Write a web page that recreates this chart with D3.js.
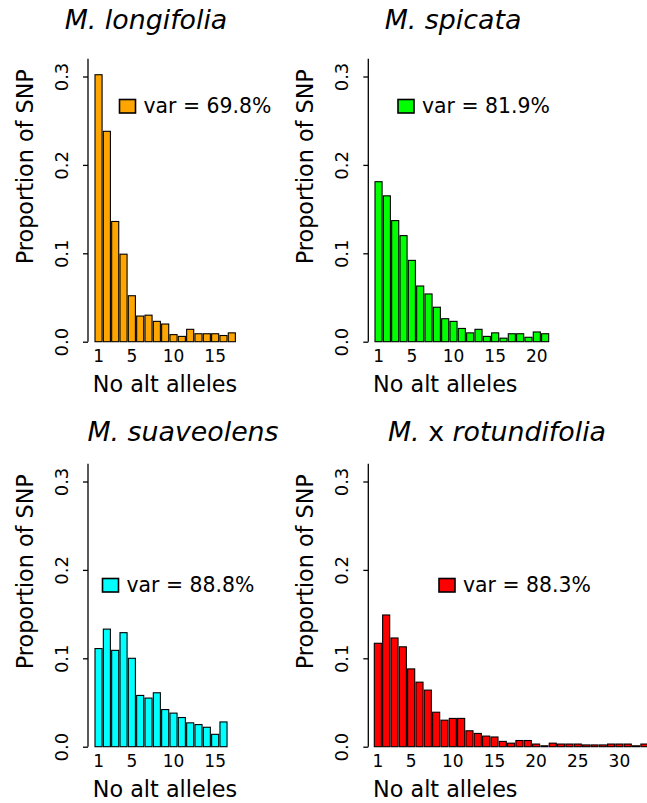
<!DOCTYPE html>
<html>
<head>
<meta charset="utf-8">
<script src="https://cdn.jsdelivr.net/npm/d3@7"></script>
<style>
  html, body { margin: 0; padding: 0; background: #fff; overflow: hidden; }
  svg { display: block; }
  text { font-family: "DejaVu Sans", sans-serif; fill: #000; }
</style>
</head>
<body>
<svg id="chart" width="647" height="803"></svg>
<script>
// ---- data ----
const speciesNames = ["M. longifolia", "M. spicata", "M. suaveolens", "M. x rotundifolia"];
const varLabels = ["var = 69.8%", "var = 81.9%", "var = 88.8%", "var = 88.3%"];
const barColors = ["#FFA500", "#00FF00", "#00FFFF", "#FF0000"];
const yTicks = [0, 0.1, 0.2, 0.3];
const yTickLabels = ["0.0", "0.1", "0.2", "0.3"];
const xTicksTop = [1, 5, 10, 15, 20];
const xTicksRot = [1, 5, 10, 15, 20, 25, 30];

const valuesLongifolia = [0.302, 0.238, 0.136, 0.099, 0.052, 0.029, 0.030, 0.023, 0.020, 0.008, 0.006,
  0.014, 0.009, 0.009, 0.009, 0.007, 0.010];
const valuesSpicata = [0.181, 0.165, 0.137, 0.120, 0.092, 0.063, 0.054, 0.039, 0.026, 0.023, 0.015,
  0.010, 0.014, 0.006, 0.010, 0.004, 0.009, 0.009, 0.005, 0.011, 0.009];
const valuesSuaveolens = [0.111, 0.133, 0.109, 0.129, 0.100, 0.058, 0.055, 0.061, 0.042, 0.038, 0.033,
  0.027, 0.025, 0.022, 0.014, 0.028];
const valuesRotundifolia = [0.117, 0.149, 0.123, 0.113, 0.088, 0.073, 0.064, 0.039, 0.030, 0.032, 0.032,
  0.018, 0.015, 0.012, 0.011, 0.006, 0.004, 0.007, 0.007, 0.003, 0.001, 0.004, 0.003, 0.003, 0.003,
  0.002, 0.002, 0.002, 0.003, 0.003, 0.003, 0.001, 0.003, 0.002, 0.002, 0.001];

const allValues = [valuesLongifolia, valuesSpicata, valuesSuaveolens, valuesRotundifolia];
const allXTicks = [xTicksTop, xTicksTop, xTicksTop, xTicksRot];

// ---- layout ----
const panelLayout = [
  { axisX: 88,    barStart: 95,    y0: 341.7, titleX: 146, titleY: 29,  legX: 119.5, legY: 99.5 },
  { axisX: 368.3, barStart: 375,   y0: 341.7, titleX: 453, titleY: 29,  legX: 398,   legY: 99.5 },
  { axisX: 88,    barStart: 95,    y0: 746.7, titleX: 183, titleY: 441, legX: 102.5, legY: 578.5 },
  { axisX: 368.3, barStart: 374.3, y0: 746.7, titleX: 497, titleY: 441, legX: 439,   legY: 578.5 }
];
const pitch = 8.33;
const pxPerUnit = 884;

const svg = d3.select("#chart");

panelLayout.forEach((L, i) => {
  const vals = allValues[i];
  const n = vals.length;
  const g = svg.append("g");

  const y = d3.scaleLinear().domain([0, 0.32]).range([L.y0, L.y0 - 0.32 * pxPerUnit]);
  const x = d3.scaleBand()
    .domain(d3.range(1, n + 1))
    .range([L.barStart, L.barStart + (n - 0.15) * pitch])
    .paddingInner(0.15).paddingOuter(0);

  // bars
  g.selectAll("rect.bar").data(vals).enter().append("rect")
    .attr("class", "bar")
    .attr("x", (d, j) => x(j + 1))
    .attr("y", d => y(d))
    .attr("width", x.bandwidth())
    .attr("height", d => y(0) - y(d))
    .attr("fill", barColors[i])
    .attr("stroke", "#000")
    .attr("stroke-width", 1.1);

  // y axis
  const yAxis = d3.axisLeft(y).tickValues(yTicks).tickSize(5).tickPadding(4)
    .tickFormat((d, k) => yTickLabels[k]);
  const ya = g.append("g").attr("transform", `translate(${L.axisX},0)`).call(yAxis);
  ya.select(".domain").attr("d", `M0,${y(0)}V${y(0.32)}`).attr("stroke", "#000").attr("stroke-width", 1.3);
  ya.selectAll(".tick line").attr("stroke", "#000").attr("stroke-width", 1.3);
  ya.selectAll(".tick text")
    .attr("font-size", 18)
    .attr("text-anchor", "middle")
    .attr("dy", null)
    .attr("x", null)
    .attr("transform", "translate(-20,0) rotate(-90)")
    .attr("y", 0);
  ya.attr("font-family", null);

  // x tick labels (no tick marks)
  const xt = allXTicks[i].filter(t => t <= n);
  g.selectAll("text.xt").data(xt).enter().append("text")
    .attr("class", "xt")
    .attr("x", d => x(d) + x.bandwidth() / 2)
    .attr("y", L.y0 + 20.5)
    .attr("text-anchor", "middle")
    .attr("font-size", 17)
    .text(d => d);

  // axis titles
  g.append("text")
    .attr("x", L.axisX + 77)
    .attr("y", L.y0 + 50)
    .attr("text-anchor", "middle")
    .attr("font-size", 22.3)
    .text("No alt alleles");
  g.append("text")
    .attr("transform", `translate(${L.axisX - 55},${L.y0 - 175}) rotate(-90)`)
    .attr("text-anchor", "middle")
    .attr("font-size", 22.3)
    .text("Proportion of SNP");

  // title
  const t = g.append("text")
    .attr("x", L.titleX)
    .attr("y", L.titleY)
    .attr("text-anchor", "middle")
    .attr("font-size", 26.8);
  if (i === 3) {
    t.append("tspan").attr("font-style", "italic").text("M.");
    t.append("tspan").text(" x ");
    t.append("tspan").attr("font-style", "italic").text("rotundifolia");
  } else {
    t.attr("font-style", "italic").text(speciesNames[i]);
  }

  // legend
  g.append("rect")
    .attr("x", L.legX).attr("y", L.legY)
    .attr("width", 16).attr("height", 13.5)
    .attr("fill", barColors[i]).attr("stroke", "#000").attr("stroke-width", 1.6);
  g.append("text")
    .attr("x", L.legX + 24)
    .attr("y", L.legY + 13.8)
    .attr("font-size", 20.4)
    .text(varLabels[i]);
});
</script>
</body>
</html>
